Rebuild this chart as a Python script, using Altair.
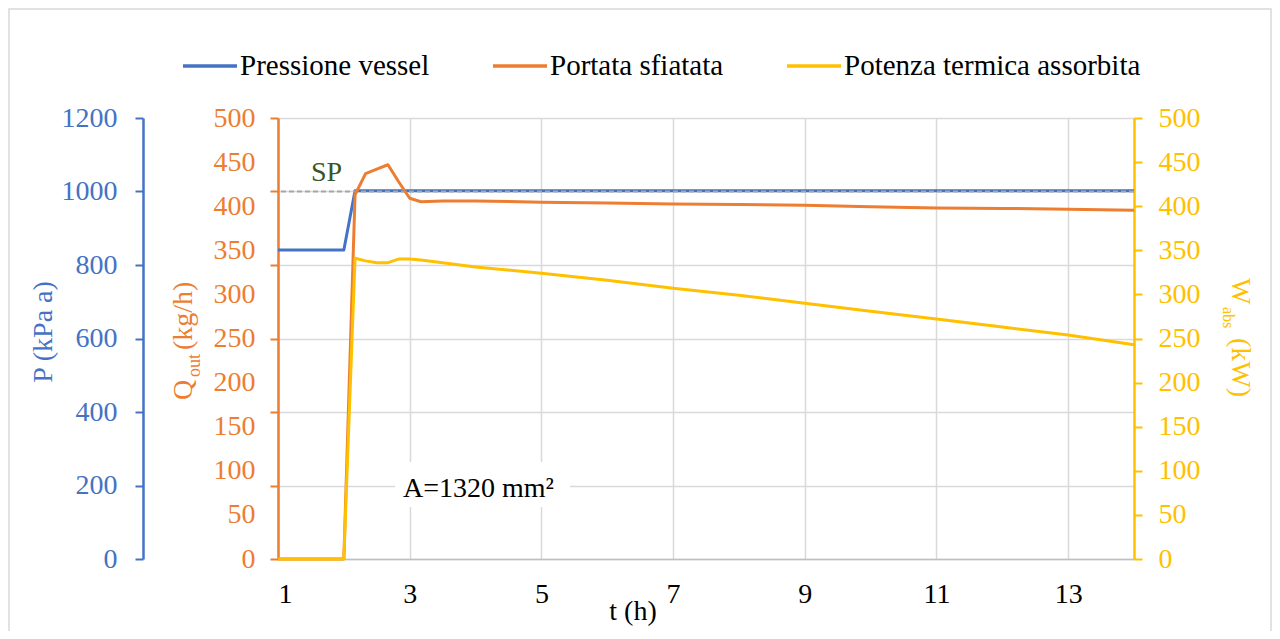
import altair as alt
import pandas as pd

# ---------------- data ----------------
t_hours = [1.0, 1.5, 2.0, 2.17, 2.33, 2.5, 2.67, 2.83, 3.0, 3.17, 3.5, 4.0,
           5.0, 6.0, 7.0, 8.0, 9.0, 10.0, 11.0, 12.0, 13.0, 14.0]
p_kpa = [841, 841, 841, 1002, 1002, 1002, 1002, 1002, 1002, 1002, 1002, 1002,
         1002, 1002, 1002, 1002, 1002, 1002, 1002, 1002, 1002, 1002]
q_kgh = [0, 0, 0, 413, 437, 442, 447, 428, 409, 405, 406, 406,
         404.5, 403.5, 402.5, 402, 401, 399.5, 398, 397.5, 396.5, 395.5]
w_kw = [0, 0, 0, 341, 338, 336, 336, 340, 340, 339, 336, 331,
        324, 316, 307, 299, 290, 281, 272, 263, 254, 243]
sp_value = [1000]

series_names = ["Pressione vessel", "Portata sfiatata", "Potenza termica assorbita"]
series_colors = ["#4472C4", "#ED7D31", "#FFC000"]

p_ticks = [0, 200, 400, 600, 800, 1000, 1200]
q_ticks = [0, 50, 100, 150, 200, 250, 300, 350, 400, 450, 500]
w_ticks = [0, 50, 100, 150, 200, 250, 300, 350, 400, 450, 500]
x_ticks = [1, 3, 5, 7, 9, 11, 13]

# ---------------- style ----------------
FONT = "Liberation Serif"
BLUE, ORANGE, YELLOW = series_colors
GRID = "#D9D9D9"
FS = 28

df_p = pd.DataFrame({"t": t_hours, "v": p_kpa, "s": series_names[0]})
df_q = pd.DataFrame({"t": t_hours, "v": q_kgh, "s": series_names[1]})
df_w = pd.DataFrame({"t": t_hours, "v": w_kw, "s": series_names[2]})
df_sp = pd.DataFrame({"sp": sp_value})

x_enc = alt.X(
    "t:Q",
    scale=alt.Scale(domain=[1, 14], nice=False, zero=False),
    axis=alt.Axis(values=x_ticks, grid=True, gridColor=GRID, gridWidth=1.5,
                  domain=True, domainColor="#BFBFBF", domainWidth=1.5,
                  ticks=False, labelFont=FONT, labelFontSize=FS, format="d",
                  labelColor="black", labelPadding=21, title=None),
)

color_enc = alt.Color(
    "s:N",
    scale=alt.Scale(domain=series_names, range=series_colors),
    legend=alt.Legend(
        title=None, orient="none", direction="horizontal",
        legendX=-97, legendY=-81,
        symbolType="stroke", symbolSize=2916, symbolStrokeWidth=3.5,
        labelFont=FONT, labelFontSize=29, labelColor="black",
        labelOffset=1, columnPadding=56, labelLimit=600,
    ),
)

line_kw = dict(strokeWidth=3, strokeJoin="round")

blue = alt.Chart(df_p).mark_line(**line_kw).encode(
    x=x_enc,
    y=alt.Y("v:Q", scale=alt.Scale(domain=[0, 1200], nice=False),
            axis=alt.Axis(orient="left", offset=135, values=p_ticks, format="d",
                          domainColor=BLUE, domainWidth=2.5,
                          tickColor=BLUE, tickSize=8, tickWidth=2,
                          labelColor=BLUE, labelFont=FONT, labelFontSize=FS,
                          labelPadding=18, grid=False, title=None)),
    color=color_enc,
)

sp_rule = alt.Chart(df_sp).mark_rule(color="#A6A6A6", strokeWidth=2,
                                     strokeDash=[5, 3]).encode(
    y=alt.Y("sp:Q", scale=alt.Scale(domain=[0, 1200], nice=False),
            axis=alt.Axis(orient="left", offset=0, values=p_ticks,
                          labels=False, domainColor=ORANGE, domainWidth=2.5,
                          tickColor=ORANGE, tickSize=8, tickWidth=2,
                          grid=True, gridColor=GRID, gridWidth=1.5,
                          title=None)),
)

orange = alt.Chart(df_q).mark_line(**line_kw).encode(
    x=x_enc,
    y=alt.Y("v:Q", scale=alt.Scale(domain=[0, 500], nice=False),
            axis=alt.Axis(orient="left", offset=0, values=q_ticks, format="d",
                          domain=False, ticks=False, grid=False,
                          labelColor=ORANGE, labelFont=FONT, labelFontSize=FS,
                          labelPadding=23, title=None)),
    color=color_enc,
)

yellow = alt.Chart(df_w).mark_line(**line_kw).encode(
    x=x_enc,
    y=alt.Y("v:Q", scale=alt.Scale(domain=[0, 500], nice=False),
            axis=alt.Axis(orient="right", values=w_ticks, format="d",
                          domainColor=YELLOW, domainWidth=2.5,
                          tickColor=YELLOW, tickSize=8, tickWidth=2,
                          labelColor=YELLOW, labelFont=FONT, labelFontSize=FS,
                          labelPadding=16, grid=False, title=None)),
    color=color_enc,
)

one = alt.Data(values=[{}])


def txt(text, x, y, color="black", size=FS, angle=0, align="left"):
    return alt.Chart(one).mark_text(
        text=text, font=FONT, fontSize=size, color=color, angle=angle,
        align=align, baseline="alphabetic",
    ).encode(x=alt.value(x), y=alt.value(y))


box = alt.Chart(one).mark_rect(color="white").encode(
    x=alt.value(117), x2=alt.value(292), y=alt.value(344), y2=alt.value(389))

border = alt.Chart(one).mark_rect(fill=None, filled=False, stroke="#D9D9D9",
                                  strokeWidth=1.5).encode(
    x=alt.value(-269), x2=alt.value(993), y=alt.value(-109), y2=alt.value(700))

annotations = [
    box,
    txt("A=1320 mm²", 125, 379),
    txt("SP", 33, 63, color="#375623"),
    txt("t (h)", 355, 502, align="center"),
    txt("P (kPa a)", -226, 214, color=BLUE, angle=270, align="center"),
    txt("Q", -86, 282, color=ORANGE, angle=270),
    txt("out", -78, 259, color=ORANGE, size=18, angle=270),
    txt("(kg/h)", -86, 232, color=ORANGE, angle=270),
    txt("W", 954, 160, color=YELLOW, angle=90),
    txt("abs", 945, 189, color=YELLOW, size=16, angle=90),
    txt("(kW)", 954, 220, color=YELLOW, angle=90),
    border,
]

chart = alt.layer(blue, sp_rule, orange, yellow, *annotations).resolve_scale(
    y="independent"
).properties(
    width=856, height=441,
    padding={"left": 270, "top": 110, "right": 138, "bottom": 72},
    autosize=alt.AutoSizeParams(type="none"),
).configure(
    font=FONT
).configure_axis(
    labelFont=FONT, titleFont=FONT
).configure_legend(
    labelFont=FONT, titleFont=FONT
).configure_view(stroke=None)

chart.save("out.html", embed_options={"renderer": "svg", "actions": False})
